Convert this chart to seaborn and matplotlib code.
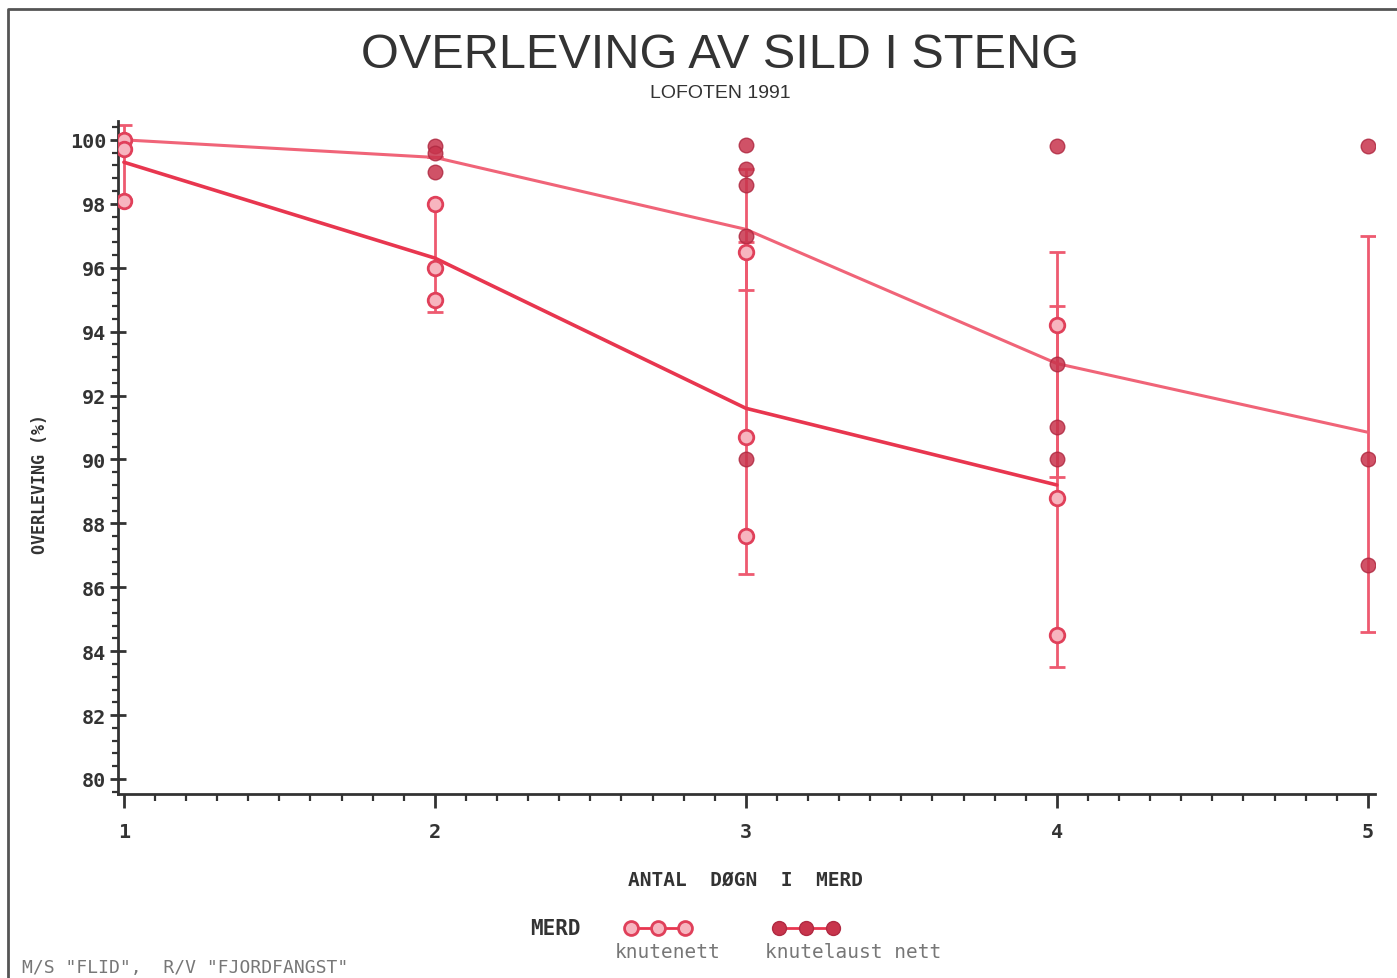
import matplotlib
matplotlib.use("Agg")
import matplotlib.pyplot as plt
from matplotlib.lines import Line2D
from matplotlib.ticker import MultipleLocator
import pandas as pd
import seaborn as sns

# Gjennomsnitt per døgn (linjene)
dager_knutenett = [1, 2, 3, 4]
snitt_knutenett = [99.3, 96.3, 91.6, 89.2]
lav_knutenett = [98.15, 94.6, 86.4, 83.5]
hoy_knutenett = [100.45, 98.0, 96.8, 94.8]

dager_knutelaust = [1, 2, 3, 4, 5]
snitt_knutelaust = [100.0, 99.45, 97.2, 93.0, 90.85]
lav_knutelaust = [100.0, 99.45, 95.3, 89.45, 84.6]
hoy_knutelaust = [100.0, 99.45, 99.1, 96.5, 97.0]

# Enkeltobservasjoner
obs_dag_knutenett = [1, 1, 1, 2, 2, 2, 3, 3, 3, 4, 4, 4]
obs_knutenett = [100.0, 99.7, 98.1, 98.0, 96.0, 95.0, 96.5, 90.7, 87.6, 94.2, 88.8, 84.5]
obs_dag_knutelaust = [1, 1, 1, 2, 2, 2, 3, 3, 3, 3, 3, 4, 4, 4, 4, 5, 5, 5]
obs_knutelaust = [100.0, 100.0, 100.0, 99.8, 99.6, 99.0, 99.85, 99.1, 98.6, 97.0, 90.0,
                  99.8, 93.0, 91.0, 90.0, 99.8, 90.0, 86.7]

RED = "#e8364f"
PINK = "#f06478"
BAR = "#ee5a70"
FILL = "#c8344c"
TXT = "#333333"

sns.set_style("white")
mono = "DejaVu Sans Mono"

fig = plt.figure(figsize=(13.97, 9.79), dpi=100)
ax = fig.add_axes([118 / 1397, 1 - 795 / 979, (1375 - 118) / 1397, (795 - 122) / 979])

# feilstolper
ax.errorbar(dager_knutenett, snitt_knutenett,
            yerr=[[m - l for m, l in zip(snitt_knutenett, lav_knutenett)],
                  [h - m for m, h in zip(snitt_knutenett, hoy_knutenett)]],
            fmt="none", ecolor=BAR, elinewidth=2, capsize=6, capthick=2, zorder=2)
ax.errorbar(dager_knutelaust, snitt_knutelaust,
            yerr=[[m - l for m, l in zip(snitt_knutelaust, lav_knutelaust)],
                  [h - m for m, h in zip(snitt_knutelaust, hoy_knutelaust)]],
            fmt="none", ecolor=BAR, elinewidth=2, capsize=6, capthick=2, zorder=2)

# linjer
df_kn = pd.DataFrame({"dag": dager_knutenett, "verdi": snitt_knutenett})
df_kl = pd.DataFrame({"dag": dager_knutelaust, "verdi": snitt_knutelaust})
sns.lineplot(data=df_kn, x="dag", y="verdi", color=RED, linewidth=2.6, ax=ax, zorder=3)
sns.lineplot(data=df_kl, x="dag", y="verdi", color=PINK, linewidth=2.2, ax=ax, zorder=3)

# punkter
pts_kn = pd.DataFrame({"dag": obs_dag_knutenett, "verdi": obs_knutenett})
pts_kl = pd.DataFrame({"dag": obs_dag_knutelaust, "verdi": obs_knutelaust})
sns.scatterplot(data=pts_kl, x="dag", y="verdi", s=110, color=FILL, edgecolor="#b02a42",
                linewidth=1, alpha=0.85, ax=ax, zorder=4)
sns.scatterplot(data=pts_kn, x="dag", y="verdi", s=110, facecolor="#f7b5bf", edgecolor="#e0405a",
                linewidth=2, ax=ax, zorder=5)

ax.set_xlim(0.981, 5.023)
ax.set_ylim(79.53, 100.59)
ax.set_xlabel("")
ax.set_ylabel("")

ax.xaxis.set_major_locator(MultipleLocator(1))
ax.xaxis.set_minor_locator(MultipleLocator(0.1))
ax.yaxis.set_major_locator(MultipleLocator(2))
ax.yaxis.set_minor_locator(MultipleLocator(0.4))

for s in ["top", "right"]:
    ax.spines[s].set_visible(False)
for s in ["left", "bottom"]:
    ax.spines[s].set_color(TXT)
    ax.spines[s].set_linewidth(2)

ax.tick_params(axis="y", which="major", left=True, direction="inout", length=11, width=2,
               color=TXT, labelsize=14.5, labelcolor=TXT, pad=3)
ax.tick_params(axis="y", which="minor", left=True, direction="out", length=4, width=1.6, color=TXT)
ax.tick_params(axis="x", which="major", bottom=True, direction="out", length=10, width=2,
               color=TXT, labelsize=14.5, labelcolor=TXT, pad=10)
ax.tick_params(axis="x", which="minor", bottom=True, direction="out", length=5, width=1.6, color=TXT)
for lab in ax.get_xticklabels() + ax.get_yticklabels():
    lab.set_fontfamily(mono)
    lab.set_fontweight("bold")

# tekster
fig.text(720 / 1397, 1 - 56 / 979, "OVERLEVING AV SILD I STENG", ha="center", va="center",
         fontsize=35, family="Liberation Sans", color=TXT)
fig.text(720 / 1397, 1 - 93 / 979, "LOFOTEN 1991", ha="center", va="center",
         fontsize=14, family="Liberation Sans", color=TXT)
fig.text(40 / 1397, 1 - 484 / 979, "OVERLEVING (%)", rotation=90, ha="center", va="center",
         fontsize=12, family=mono, fontweight="bold", color=TXT)
fig.text(745 / 1397, 1 - 880 / 979, "ANTAL  DØGN  I  MERD", ha="center", va="center",
         fontsize=14, family=mono, fontweight="bold", color=TXT)

# forklaring
fig.text(555 / 1397, 1 - 929 / 979, "MERD", ha="center", va="center",
         fontsize=15, family=mono, fontweight="bold", color=TXT)
fig.add_artist(Line2D([631 / 1397, 658 / 1397, 685 / 1397], [1 - 929 / 979] * 3,
                      transform=fig.transFigure, color=RED, linewidth=2, marker="o",
                      markersize=10, markerfacecolor="#f7b5bf", markeredgecolor="#e0405a",
                      markeredgewidth=2))
fig.add_artist(Line2D([779 / 1397, 806 / 1397, 833 / 1397], [1 - 929 / 979] * 3,
                      transform=fig.transFigure, color=RED, linewidth=2, marker="o",
                      markersize=10, markerfacecolor=FILL, markeredgecolor="#b02a42"))
fig.text(668 / 1397, 1 - 953 / 979, "knutenett", ha="center", va="center",
         fontsize=14, family=mono, color="#777777")
fig.text(853 / 1397, 1 - 953 / 979, "knutelaust nett", ha="center", va="center",
         fontsize=14, family=mono, color="#777777")
fig.text(22 / 1397, 1 - 977 / 979, 'M/S "FLID",  R/V "FJORDFANGST"', ha="left", va="bottom",
         fontsize=13, family=mono, color="#777777")

# ramme
fig.add_artist(Line2D([8 / 1397, 8 / 1397, 1], [0, 1 - 10 / 979, 1 - 10 / 979],
                      transform=fig.transFigure, color="#555555", linewidth=2))

fig.savefig("out.png", dpi=100)
